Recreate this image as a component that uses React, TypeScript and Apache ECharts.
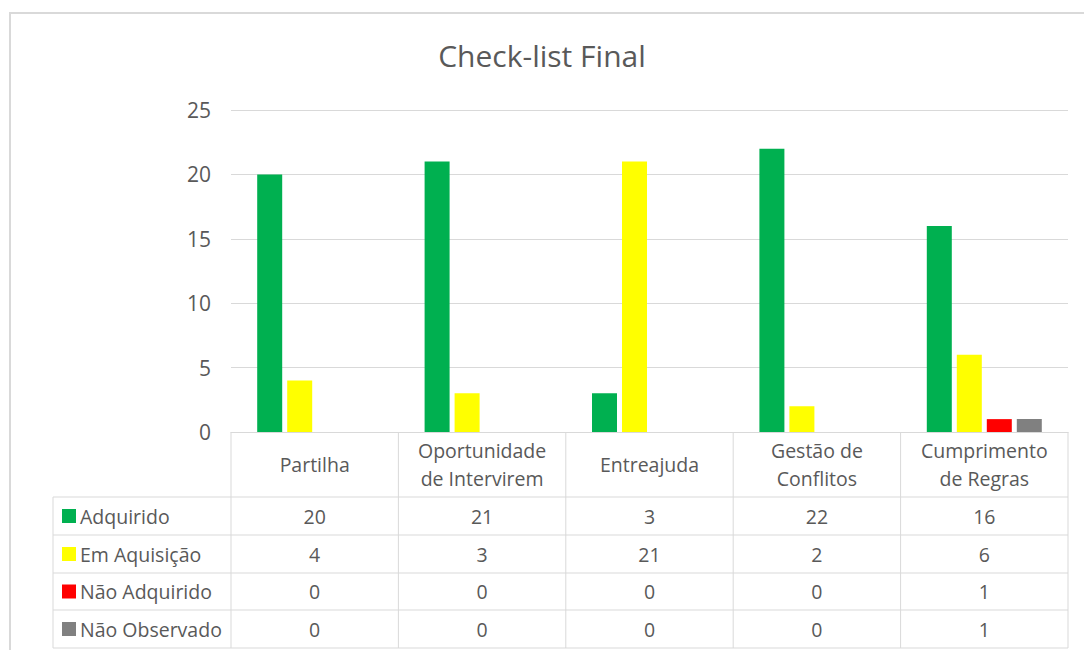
import React, { useEffect, useRef } from "react";
import * as echarts from "echarts";

const categories = ["Partilha", "Oportunidade\nde Intervirem", "Entreajuda", "Gestão de\nConflitos", "Cumprimento\nde Regras"];
const seriesNames = ["Adquirido", "Em Aquisição", "Não Adquirido", "Não Observado"];
const seriesColors = ["#00B050", "#FFFF00", "#FF0000", "#808080"];
const adquirido = [20, 21, 3, 22, 16];
const emAquisicao = [4, 3, 21, 2, 6];
const naoAdquirido = [0, 0, 0, 0, 1];
const naoObservado = [0, 0, 0, 0, 1];
const allValues = [adquirido, emAquisicao, naoAdquirido, naoObservado];

const W = 1084;
const H = 650;
const GL = 231; // plot left
const GR = 1068; // plot right
const GT = 110; // plot top
const GB = 432; // plot bottom (axis)
const ROWS = [497, 535, 573, 610, 648];
const LEG_L = 53;
const TXT = "#595959";
const LINE = "#d9d9d9";
const FONT = "'Open Sans', sans-serif";
const FS = 19.5;

export default function App() {
  const ref = useRef<HTMLDivElement>(null);
  useEffect(() => {
    if (!ref.current) return;
    const chart = echarts.init(ref.current, undefined, { renderer: "svg" });
    const colW = (GR - GL) / categories.length;
    const graphics: any[] = [];
    // outer frame
    graphics.push({ type: "rect", shape: { x: 10, y: 13, width: 1200, height: 800 }, style: { fill: "none", stroke: LINE, lineWidth: 2 }, silent: true });
    // table horizontal lines
    ROWS.forEach((y) => {
      graphics.push({ type: "line", shape: { x1: LEG_L, y1: y, x2: GR, y2: y }, style: { stroke: LINE, lineWidth: 1 } });
    });
    // vertical lines
    for (let i = 0; i <= categories.length; i++) {
      const x = GL + colW * i;
      graphics.push({ type: "line", shape: { x1: x, y1: GB, x2: x, y2: ROWS[ROWS.length - 1] }, style: { stroke: LINE, lineWidth: 1 } });
    }
    graphics.push({ type: "line", shape: { x1: LEG_L, y1: ROWS[0], x2: LEG_L, y2: ROWS[ROWS.length - 1] }, style: { stroke: LINE, lineWidth: 1 } });
    // legend rows and values
    seriesNames.forEach((name, r) => {
      const cy = (ROWS[r] + ROWS[r + 1]) / 2;
      graphics.push({ type: "rect", shape: { x: 62, y: cy - 7, width: 14, height: 14 }, style: { fill: seriesColors[r] } });
      graphics.push({ type: "text", x: 80, y: cy, style: { text: name, fill: TXT, font: `${FS}px ${FONT}`, textVerticalAlign: "middle", textAlign: "left" } });
      allValues[r].forEach((v, c) => {
        graphics.push({ type: "text", x: GL + colW * (c + 0.5), y: cy, style: { text: String(v), fill: TXT, font: `${FS}px ${FONT}`, textVerticalAlign: "middle", textAlign: "center" } });
      });
    });

    chart.setOption({
      animation: false,
      backgroundColor: "#ffffff",
      title: {
        text: "Check-list Final",
        left: "center",
        top: 35,
        textStyle: { color: TXT, fontFamily: FONT, fontSize: 30, fontWeight: "normal" },
      },
      grid: { left: GL, right: W - GR, top: GT, bottom: H - GB, containLabel: false },
      xAxis: {
        type: "category",
        data: categories,
        axisLine: { show: true, lineStyle: { color: LINE } },
        axisTick: { show: false },
        axisLabel: {
          color: TXT,
          fontFamily: FONT,
          fontSize: FS,
          lineHeight: 28,
          verticalAlign: "middle",
          margin: 32,
          interval: 0,
        },
      },
      yAxis: {
        type: "value",
        min: 0,
        max: 25,
        interval: 5,
        axisLine: { show: false },
        axisTick: { show: false },
        splitLine: { lineStyle: { color: LINE } },
        axisLabel: { color: TXT, fontFamily: FONT, fontSize: 21, margin: 20 },
      },
      series: seriesNames.map((name, i) => ({
        name,
        type: "bar",
        data: allValues[i],
        barWidth: 25,
        barGap: "20%",
        itemStyle: { color: seriesColors[i] },
      })),
      graphic: graphics,
    });
    return () => chart.dispose();
  }, []);
  return <div ref={ref} style={{ position: "absolute", left: 0, top: 0, width: W, height: H }} />;
}
